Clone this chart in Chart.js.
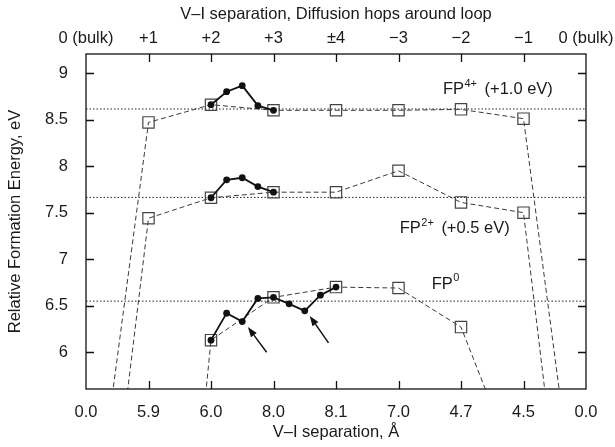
<!DOCTYPE html>
<html>
<head>
<meta charset="utf-8">
<script src="https://cdn.jsdelivr.net/npm/chart.js@4.4.1/dist/chart.umd.min.js"></script>
<style>
  html, body { margin: 0; padding: 0; background: #fff; }
</style>
</head>
<body>
<canvas id="chart" width="615" height="447"></canvas>
<script>
// categories along the loop (index 0..8)
var sepLabels = ['0.0', '5.9', '6.0', '8.0', '8.1', '7.0', '4.7', '4.5', '0.0'];
var hopLabels = ['0 (bulk)', '+1', '+2', '+3', '\u00b14', '\u22123', '\u22122', '\u22121', '0 (bulk)'];
var yTicks = [6, 6.5, 7, 7.5, 8, 8.5, 9];

// square markers, one value per category (bulk ends fall below the frame)
var fp4Squares = [3.41, 8.47, 8.66, 8.60, 8.60, 8.60, 8.61, 8.51, 3.41];
var fp2Squares = [1.90, 7.44, 7.66, 7.72, 7.72, 7.95, 7.61, 7.50, 1.90];
var fp0Squares = [null, -0.70, 6.13, 6.59, 6.70, 6.69, 6.27, 4.56, null];

// filled-circle paths between categories
var fp4PathX = [2, 2.25, 2.5, 2.75, 3];
var fp4Path = [8.66, 8.80, 8.865, 8.65, 8.60];
var fp2PathX = [2, 2.25, 2.5, 2.75, 3];
var fp2Path = [7.66, 7.853, 7.875, 7.78, 7.72];
var fp0PathX = [2, 2.25, 2.5, 2.75, 3, 3.25, 3.5, 3.75, 4];
var fp0Path = [6.13, 6.42, 6.33, 6.578, 6.59, 6.52, 6.445, 6.613, 6.70];

// bulk reference levels (dotted)
var fp4Ref = 8.614;
var fp2Ref = 7.664;
var fp0Ref = 6.549;

var FONT = '"Liberation Sans", Arial, Helvetica, sans-serif';
var INK = '#1a1a1a';

function pts(xs, ys) {
    return ys.map(function(v, i) { return { x: xs[i], y: v }; });
}
function byIndex(ys) {
    return ys.map(function(v, i) { return { x: i, y: v }; });
}
function refLine(v) {
    return [{ x: 0, y: v }, { x: sepLabels.length - 1, y: v }];
}

function pathSet(data) {
    return {
        data: data,
        showLine: true,
        borderColor: '#111',
        backgroundColor: '#111',
        borderWidth: 1.8,
        pointRadius: 3.4,
        pointBorderWidth: 0
    };
}
function squareSet(data) {
    return {
        data: data,
        showLine: true,
        spanGaps: false,
        borderColor: '#3a3a3a',
        backgroundColor: 'rgba(0,0,0,0)',
        borderWidth: 1,
        borderDash: [5, 3],
        pointStyle: 'rect',
        pointRadius: 8,
        pointBorderWidth: 1.2,
        pointBorderColor: '#444'
    };
}
function dottedSet(data) {
    return {
        data: data,
        showLine: true,
        borderColor: '#222',
        borderWidth: 1,
        borderDash: [1.5, 2],
        pointRadius: 0
    };
}

// text annotations and arrows, placed in data units
var notes = [
    { x: 5.71, y: 8.82, sup: '4+', rest: '(+1.0 eV)' },
    { x: 5.02, y: 7.33, sup: '2+', rest: '(+0.5 eV)' },
    { x: 5.53, y: 6.73, sup: '0', rest: '' }
];
var arrows = [
    { from: [2.89, 6.00], to: [2.59, 6.27] },
    { from: [3.88, 6.10], to: [3.58, 6.39] }
];

var overlay = {
    id: 'overlay',
    afterDatasetsDraw: function(chart) {
        var ctx = chart.ctx, a = chart.chartArea;
        var xs = chart.scales.x, ys = chart.scales.y;
        ctx.save();

        // frame and inward ticks
        ctx.strokeStyle = '#111';
        ctx.lineWidth = 1.3;
        ctx.strokeRect(a.left, a.top, a.right - a.left, a.bottom - a.top);
        ctx.beginPath();
        for (var i = 1; i < sepLabels.length - 1; i++) {
            var px = Math.round(xs.getPixelForValue(i)) + 0.5;
            ctx.moveTo(px, a.bottom); ctx.lineTo(px, a.bottom - 8);
            ctx.moveTo(px, a.top); ctx.lineTo(px, a.top + 8);
        }
        yTicks.forEach(function(v) {
            var py = Math.round(ys.getPixelForValue(v)) + 0.5;
            ctx.moveTo(a.left, py); ctx.lineTo(a.left + 8, py);
            ctx.moveTo(a.right, py); ctx.lineTo(a.right - 8, py);
        });
        ctx.stroke();

        // arrows
        ctx.strokeStyle = '#111';
        ctx.fillStyle = '#111';
        ctx.lineWidth = 1.5;
        arrows.forEach(function(ar) {
            var x0 = xs.getPixelForValue(ar.from[0]), y0 = ys.getPixelForValue(ar.from[1]);
            var x1 = xs.getPixelForValue(ar.to[0]), y1 = ys.getPixelForValue(ar.to[1]);
            var ang = Math.atan2(y1 - y0, x1 - x0);
            var hl = 10, hw = 3.6;
            var bx = x1 - hl * Math.cos(ang), by = y1 - hl * Math.sin(ang);
            ctx.beginPath();
            ctx.moveTo(x0, y0); ctx.lineTo(bx, by);
            ctx.stroke();
            ctx.beginPath();
            ctx.moveTo(x1, y1);
            ctx.lineTo(bx + hw * Math.sin(ang), by - hw * Math.cos(ang));
            ctx.lineTo(bx - hw * Math.sin(ang), by + hw * Math.cos(ang));
            ctx.closePath();
            ctx.fill();
        });

        // FP labels with superscripts
        ctx.fillStyle = INK;
        ctx.textBaseline = 'middle';
        ctx.textAlign = 'left';
        notes.forEach(function(n) {
            var x = xs.getPixelForValue(n.x), y = ys.getPixelForValue(n.y);
            ctx.font = '16.5px ' + FONT;
            ctx.fillText('FP', x, y);
            var w = ctx.measureText('FP').width;
            ctx.font = '11px ' + FONT;
            ctx.fillText(n.sup, x + w + 0.5, y - 6);
            var w2 = ctx.measureText(n.sup).width;
            if (n.rest) {
                ctx.font = '16.5px ' + FONT;
                ctx.fillText(n.rest, x + w + w2 + 8, y);
            }
        });
        ctx.restore();
    }
};

var tickFont = { family: FONT, size: 16.5 };

new Chart(document.getElementById('chart'), {
    type: 'scatter',
    data: {
        datasets: [
            pathSet(pts(fp4PathX, fp4Path)),
            pathSet(pts(fp2PathX, fp2Path)),
            pathSet(pts(fp0PathX, fp0Path)),
            squareSet(byIndex(fp4Squares)),
            squareSet(byIndex(fp2Squares)),
            squareSet(byIndex(fp0Squares)),
            dottedSet(refLine(fp4Ref)),
            dottedSet(refLine(fp2Ref)),
            dottedSet(refLine(fp0Ref))
        ]
    },
    options: {
        responsive: false,
        animation: false,
        devicePixelRatio: 1,
        layout: { padding: { right: 29 } },
        plugins: { legend: { display: false }, tooltip: { enabled: false } },
        scales: {
            x: {
                type: 'linear', position: 'bottom', min: 0, max: sepLabels.length - 1,
                afterBuildTicks: function(s) { s.ticks = sepLabels.map(function(_, i) { return { value: i }; }); },
                afterFit: function(s) { s.height = 58; s.paddingLeft = 0; s.paddingRight = 0; },
                grid: { display: false }, border: { display: false },
                ticks: {
                    autoSkip: false, maxRotation: 0, padding: 6, color: INK, font: tickFont,
                    callback: function(v) { return sepLabels[Math.round(v)]; }
                },
                title: { display: true, text: 'V\u2013I separation, \u00c5', color: INK, font: tickFont, padding: { top: 0, bottom: 5 } }
            },
            x2: {
                type: 'linear', position: 'top', min: 0, max: hopLabels.length - 1,
                afterBuildTicks: function(s) { s.ticks = hopLabels.map(function(_, i) { return { value: i }; }); },
                afterFit: function(s) { s.height = 54; s.paddingLeft = 0; s.paddingRight = 0; },
                grid: { display: false }, border: { display: false },
                ticks: {
                    autoSkip: false, maxRotation: 0, padding: -2, color: INK, font: tickFont,
                    callback: function(v) { return hopLabels[Math.round(v)]; }
                },
                title: { display: true, text: 'V\u2013I separation, Diffusion hops around loop', color: INK, font: tickFont, padding: { top: 5, bottom: 0 } }
            },
            y: {
                type: 'linear', position: 'left', min: 5.605, max: 9.205,
                afterBuildTicks: function(s) { s.ticks = yTicks.map(function(v) { return { value: v }; }); },
                afterFit: function(s) { s.width = 86; },
                grid: { display: false }, border: { display: false },
                ticks: { padding: 10, color: INK, font: tickFont, callback: function(v) { return String(v); } },
                title: { display: true, text: 'Relative Formation Energy, eV', color: INK, font: tickFont, padding: { top: 6, bottom: 0 } }
            }
        }
    },
    plugins: [overlay]
});
</script>
</body>
</html>
